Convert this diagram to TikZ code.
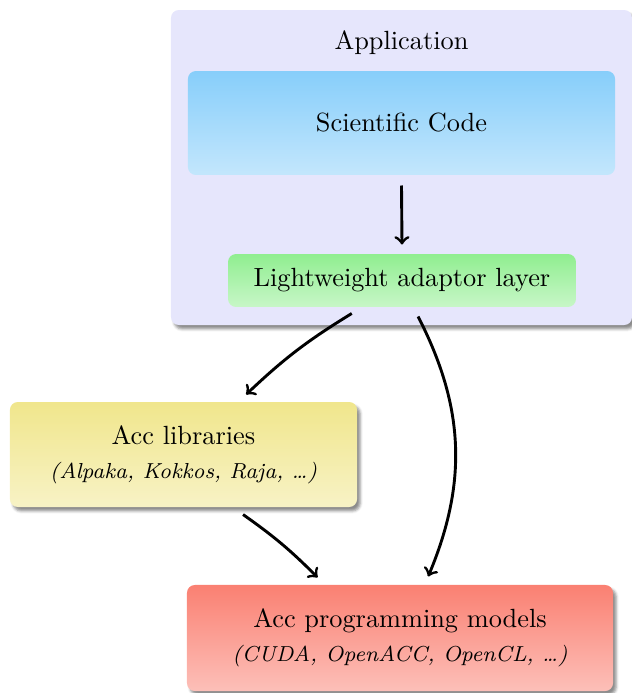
\documentclass[tikz,border=0pt]{standalone}
\usetikzlibrary{calc,shadows.blur}

\definecolor{appbg}{RGB}{230,230,252}
\definecolor{skyc}{RGB}{135,206,250}
\definecolor{greenc}{RGB}{144,238,144}
\definecolor{khakic}{RGB}{240,230,140}
\definecolor{salmonc}{RGB}{250,128,114}

\newcommand{\subline}[1]{{\fontsize{8.25}{10}\selectfont\itshape #1}}

\begin{document}
\begin{tikzpicture}[x=0.38pt,y=-0.38pt,
  box/.style={rounded corners=3pt, draw=none, inner sep=0pt, align=center},
  shadowed/.style={blur shadow={shadow xshift=1.2pt, shadow yshift=-1.5pt,
      shadow blur radius=1pt, shadow opacity=45}},
  conn/.style={->, line width=1.1pt}]
\useasboundingbox (0,0) rectangle (631,693);

% outer application frame
\node[box, shadowed, fill=appbg, minimum width=175.2pt, minimum height=119.7pt]
  (app) at (401.5,167.5) {};
\node (apptitle) at (401.5,43) {Application};

% inner layers
\node[box, top color=skyc, bottom color=skyc!50, minimum width=162.3pt,
  minimum height=39.5pt] (sc) at (401.5,123) {Scientific Code};
\node[box, top color=greenc, bottom color=greenc!50, minimum width=132.2pt,
  minimum height=20.1pt] (lw) at (402,280.5) {Lightweight adaptor layer};

% back ends
\node[box, shadowed, top color=khakic, bottom color=khakic!50, minimum width=131.9pt,
  minimum height=39.9pt] (lib) at (183.5,454.5)
  {Acc libraries\\[1pt]\subline{(Alpaka, Kokkos, Raja, \dots)}};
\node[box, shadowed, top color=salmonc, bottom color=salmonc!50, minimum width=161.9pt,
  minimum height=40.3pt] (prog) at (400,638)
  {Acc programming models\\[1pt]\subline{(CUDA, OpenACC, OpenCL, \dots)}};

% connectors
\draw[conn] ($(sc.south)+(0,10)$) -- ($(lw.north)+(0,-9)$);
\draw[conn] ($(lw.south west)!0.356!(lw.south east)+(0,6)$)
  to[bend right=6] ($(lib.north west)!0.68!(lib.north east)+(0,-7)$);
\draw[conn] ($(lw.south west)!0.546!(lw.south east)+(0,9)$)
  to[bend left=25] ($(prog.north west)!0.566!(prog.north east)+(0,-8)$);
\draw[conn] ($(lib.south west)!0.671!(lib.south east)+(0,7)$)
  to[bend left=5] ($(prog.north west)!0.307!(prog.north east)+(0,-7)$);
\end{tikzpicture}
\end{document}
